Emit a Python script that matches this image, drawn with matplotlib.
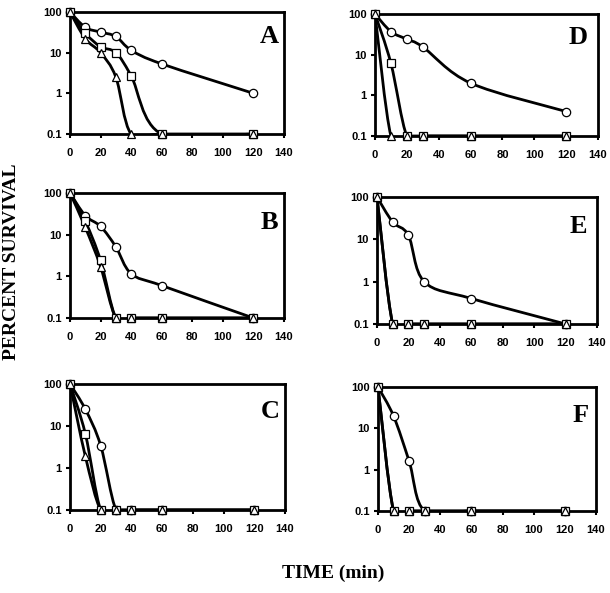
import numpy as np
import matplotlib
matplotlib.use("Agg")
import matplotlib.pyplot as plt
from matplotlib.path import Path
from matplotlib.patches import PathPatch

# ---------------- data ----------------
t_long = [0, 10, 20, 30, 40, 60, 120]
t_short = [0, 10, 20, 30, 60, 120]

A_circ = [100, 42, 32, 25, 11.5, 5.3, 1.0]
A_sq = [100, 30, 14, 10, 2.7, 0.1, 0.1]
A_tri = [100, 22, 10, 2.5, 0.1, 0.1, 0.1]

B_circ = [100, 28.6, 15.8, 5.1, 1.16, 0.6, 0.1]
B_sq = [100, 21, 2.4, 0.1, 0.1, 0.1, 0.1]
B_tri = [100, 15, 1.7, 0.1, 0.1, 0.1, 0.1]

C_circ = [100, 25, 3.4, 0.1, 0.1, 0.1, 0.1]
C_sq = [100, 6.5, 0.1, 0.1, 0.1, 0.1, 0.1]
C_tri = [100, 1.9, 0.1, 0.1, 0.1, 0.1, 0.1]

D_circ = [100, 37, 24, 15.5, 2.0, 0.4]
D_sq = [100, 6.1, 0.1, 0.1, 0.1, 0.1]
D_tri = [100, 0.1, 0.1, 0.1, 0.1, 0.1]

E_circ = [100, 25.6, 12.4, 1.0, 0.4, 0.1]
E_sq = [100, 0.1, 0.1, 0.1, 0.1, 0.1]
E_tri = [100, 0.1, 0.1, 0.1, 0.1, 0.1]

F_circ = [100, 19.8, 1.6, 0.1, 0.1, 0.1]
F_sq = [100, 0.1, 0.1, 0.1, 0.1, 0.1]
F_tri = [100, 0.1, 0.1, 0.1, 0.1, 0.1]

x_ticks = [0, 20, 40, 60, 80, 100, 120, 140]
y_ticks = [0.1, 1, 10, 100]
y_tick_labels = ["0.1", "1", "10", "100"]
panel_letters = ["A", "B", "C", "D", "E", "F"]
x_label = "TIME (min)"
y_label = "PERCENT SURVIVAL"

panels = {
    "A": (t_long, A_circ, A_sq, A_tri),
    "B": (t_long, B_circ, B_sq, B_tri),
    "C": (t_long, C_circ, C_sq, C_tri),
    "D": (t_short, D_circ, D_sq, D_tri),
    "E": (t_short, E_circ, E_sq, E_tri),
    "F": (t_short, F_circ, F_sq, F_tri),
}

# ---------------- layout (pixels: left, top, width, height) ----------------
W, H = 610, 593
boxes = {
    "A": (70, 12, 214, 122),
    "B": (70, 193, 214, 125),
    "C": (70, 384, 215, 126),
    "D": (375, 14, 223, 122),
    "E": (377, 197, 220, 127),
    "F": (378, 387, 218, 124),
}
letter_pos = {
    "A": (0.975, 0.89), "B": (0.975, 0.86), "C": (0.975, 0.87),
    "D": (0.955, 0.90), "E": (0.955, 0.86), "F": (0.965, 0.86),
}


def smooth_line(ax, x, y, **kw):
    """Excel-like smoothed connector drawn as cubic Bezier segments."""
    xs = np.asarray(x, float)
    ly = np.log10(np.asarray(y, float))
    P = np.column_stack([xs, ly])
    n = len(P)
    verts = [P[0]]
    codes = [Path.MOVETO]
    for i in range(n - 1):
        p0 = P[i - 1] if i > 0 else P[i]
        p1, p2 = P[i], P[i + 1]
        p3 = P[i + 2] if i + 2 < n else P[i + 1]
        c1 = p1 + (p2 - p0) / 6.0
        c2 = p2 - (p3 - p1) / 6.0
        verts += [c1, c2, p2]
        codes += [Path.CURVE4] * 3
    V = np.array(verts)
    V[:, 1] = 10 ** V[:, 1]
    patch = PathPatch(Path(V, codes), fill=False, transform=ax.transData, **kw)
    ax.add_patch(patch)


fig = plt.figure(figsize=(W / 100, H / 100), dpi=100)

tick_font = dict(family="Liberation Sans", weight="bold", size=8)

for key in panel_letters:
    l, t, w, h = boxes[key]
    ax = fig.add_axes([l / W, 1 - (t + h) / H, w / W, h / H])
    tx, circ, sq, tri = panels[key]
    ax.set_yscale("log")
    ax.set_xlim(0, 140)
    ax.set_ylim(0.1, 100)
    for series in (circ, sq, tri):
        smooth_line(ax, tx, series, edgecolor="black", linewidth=2.0,
                    joinstyle="round", capstyle="round", zorder=2)
    ax.plot(tx, circ, linestyle="none", marker="o", markersize=6,
            markerfacecolor="white", markeredgecolor="black",
            markeredgewidth=0.9, clip_on=False, zorder=3)
    ax.plot(tx, sq, linestyle="none", marker="s", markersize=5.5,
            markerfacecolor="white", markeredgecolor="black",
            markeredgewidth=0.9, clip_on=False, zorder=4)
    ax.plot(tx, tri, linestyle="none", marker="^", markersize=5.5,
            markerfacecolor="white", markeredgecolor="black",
            markeredgewidth=0.9, clip_on=False, zorder=5)

    for s in ax.spines.values():
        s.set_linewidth(2.0)
    ax.set_xticks(x_ticks)
    ax.set_xticklabels([str(v) for v in x_ticks], fontdict=tick_font)
    ax.set_yticks(y_ticks)
    ax.set_yticklabels(y_tick_labels, fontdict=tick_font)
    ax.minorticks_off()
    ax.tick_params(axis="both", direction="out", length=3, width=1.5)
    ax.tick_params(axis="x", pad=7)
    ax.tick_params(axis="y", pad=3)

    lx, lyy = letter_pos[key]
    ax.text(lx, lyy, key, transform=ax.transAxes, ha="right", va="top",
            family="Liberation Serif", weight="bold", size=19)

fig.text(12 / W, 1 - 262 / H, y_label, rotation=90, ha="center", va="center",
         family="Liberation Serif", weight="bold", size=14)
fig.text(333 / W, 1 - 573 / H, x_label, ha="center", va="center",
         family="Liberation Serif", weight="bold", size=14)

fig.savefig("out.png", dpi=100)
